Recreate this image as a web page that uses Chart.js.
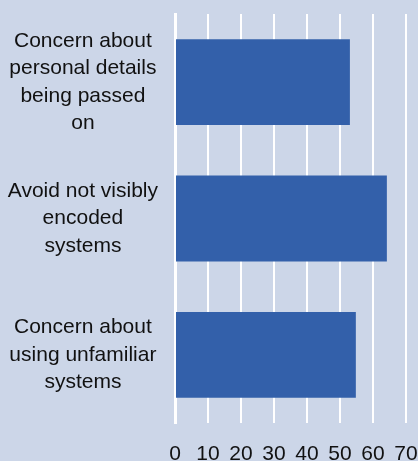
<!DOCTYPE html>
<html>
<head>
<meta charset="utf-8">
<script src="https://cdn.jsdelivr.net/npm/chart.js@4.4.1/dist/chart.umd.min.js"></script>
<style>
  html, body { margin: 0; padding: 0; background: #ccd6e8; }
  #wrap { width: 418px; height: 461px; position: relative; }
</style>
</head>
<body>
<div id="wrap"><canvas id="myChart"></canvas></div>
<script>
// Data
const categories = [
  ['Concern about', 'personal details', 'being passed', 'on'],
  ['Avoid not visibly', 'encoded', 'systems'],
  ['Concern about', 'using unfamiliar', 'systems']
];
const values = [53, 64.2, 54.8];
const xTicks = [0, 10, 20, 30, 40, 50, 60, 70];

const ctx = document.getElementById('myChart').getContext('2d');
new Chart(ctx, {
  type: 'bar',
  data: {
    labels: categories,
    datasets: [{
      data: values,
      backgroundColor: '#3360aa',
      borderWidth: 0,
      barPercentage: 0.63,
      categoryPercentage: 1
    }]
  },
  options: {
    indexAxis: 'y',
    responsive: true,
    maintainAspectRatio: false,
    animation: false,
    layout: { padding: { top: 14, left: 0, right: 12, bottom: 0 } },
    plugins: {
      legend: { display: false },
      tooltip: { enabled: false }
    },
    scales: {
      x: {
        min: 0,
        max: 70,
        afterBuildTicks: axis => { axis.ticks = xTicks.map(v => ({ value: v })); },
        // labels may run to the canvas edge, like in the picture
        afterFit: axis => {
          axis.height = 38;
          axis.paddingLeft = 0;
          axis.paddingRight = 0;
        },
        grid: { color: '#ffffff', lineWidth: 2, drawTicks: false },
        border: { display: false },
        ticks: {
          color: '#111111',
          padding: 21,
          font: { family: 'Liberation Sans', size: 21, lineHeight: 1.0 }
        }
      },
      y: {
        afterFit: axis => {
          axis.width = 175;
          axis.paddingTop = 0;
          axis.paddingBottom = 0;
        },
        grid: { display: false, drawTicks: false },
        border: { display: true, color: '#ffffff', width: 3 },
        ticks: {
          color: '#111111',
          crossAlign: 'center',
          padding: 17,
          font: { family: 'Liberation Sans', size: 21, lineHeight: 1.3 }
        }
      }
    }
  }
});
</script>
</body>
</html>
